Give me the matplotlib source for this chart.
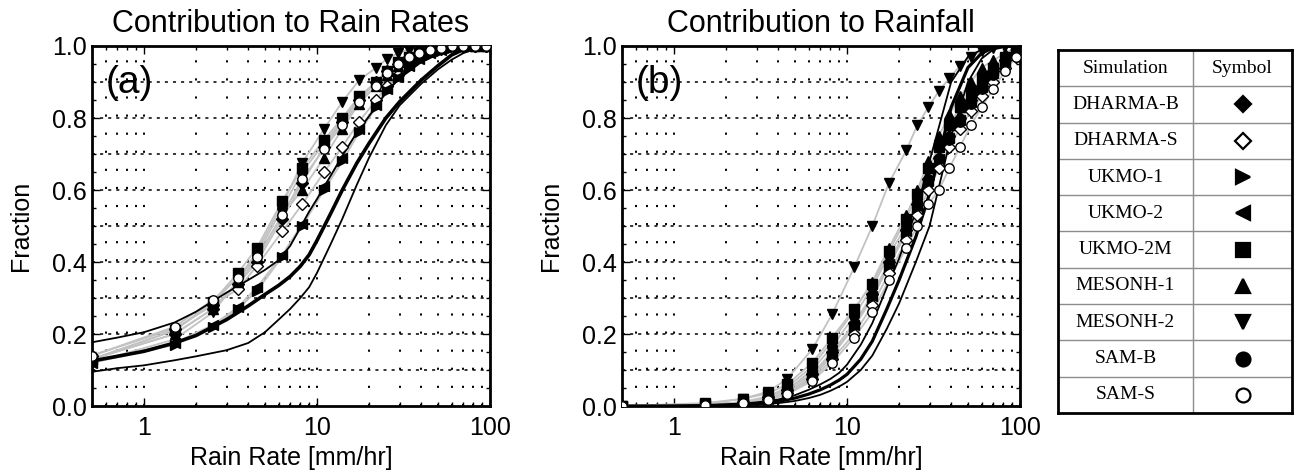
import numpy as np
import matplotlib
matplotlib.use("Agg")
import matplotlib.pyplot as plt
from matplotlib.ticker import FixedLocator, FixedFormatter, MultipleLocator, NullFormatter

plt.rcParams['font.family'] = ['Liberation Sans', 'DejaVu Sans']

# rain-rate bins where the simulation symbols sit [mm/hr]
rate_bins = [0.5, 1.5, 2.5, 3.5, 4.5, 6.3, 8.2, 11, 14, 17.5, 22, 25.5, 29.5, 34, 39, 45, 52, 60, 70, 82, 95]

# (a) contribution to rain rates
a_dharma_b = [0.13, 0.20, 0.27, 0.34, 0.40, 0.52, 0.62, 0.72, 0.79, 0.85, 0.90, 0.93, 0.95, 0.97, 0.98, 0.99, 0.995, 1, 1, 1, 1]
a_dharma_s = [0.14, 0.215, 0.28, 0.325, 0.39, 0.485, 0.56, 0.65, 0.72, 0.79, 0.85, 0.89, 0.92, 0.95, 0.97, 0.985, 0.993, 0.997, 1, 1, 1]
a_ukmo_1 = [0.12, 0.17, 0.22, 0.27, 0.32, 0.415, 0.50, 0.60, 0.68, 0.76, 0.83, 0.875, 0.91, 0.94, 0.96, 0.975, 0.987, 0.995, 1, 1, 1]
a_ukmo_2 = [0.12, 0.175, 0.225, 0.275, 0.33, 0.42, 0.505, 0.61, 0.69, 0.77, 0.835, 0.88, 0.915, 0.945, 0.965, 0.98, 0.99, 0.996, 1, 1, 1]
a_ukmo_2m = [0.13, 0.21, 0.29, 0.37, 0.44, 0.57, 0.66, 0.74, 0.80, 0.86, 0.90, 0.93, 0.955, 0.97, 0.98, 0.99, 0.995, 1, 1, 1, 1]
a_mesonh_1 = [0.13, 0.20, 0.27, 0.345, 0.41, 0.53, 0.60, 0.69, 0.77, 0.84, 0.89, 0.92, 0.945, 0.965, 0.98, 0.99, 0.995, 1, 1, 1, 1]
a_mesonh_2 = [0.12, 0.185, 0.26, 0.35, 0.43, 0.56, 0.675, 0.77, 0.845, 0.905, 0.94, 0.965, 0.98, 0.99, 0.995, 1, 1, 1, 1, 1, 1]
a_sam_b = [0.13, 0.21, 0.285, 0.36, 0.42, 0.55, 0.65, 0.73, 0.795, 0.855, 0.90, 0.93, 0.95, 0.97, 0.98, 0.99, 0.995, 1, 1, 1, 1]
a_sam_s = [0.14, 0.22, 0.295, 0.355, 0.415, 0.53, 0.63, 0.715, 0.78, 0.845, 0.89, 0.925, 0.95, 0.97, 0.98, 0.99, 0.995, 1, 1, 1, 1]

# (b) contribution to rainfall
b_dharma_b = [0, 0.003, 0.01, 0.025, 0.045, 0.09, 0.15, 0.23, 0.31, 0.40, 0.49, 0.56, 0.63, 0.69, 0.75, 0.80, 0.85, 0.89, 0.93, 0.96, 0.98]
b_dharma_s = [0, 0.002, 0.008, 0.02, 0.035, 0.075, 0.13, 0.20, 0.28, 0.37, 0.46, 0.53, 0.60, 0.66, 0.72, 0.77, 0.82, 0.86, 0.90, 0.94, 0.97]
b_ukmo_1 = [0, 0.002, 0.007, 0.018, 0.035, 0.08, 0.14, 0.22, 0.30, 0.39, 0.48, 0.55, 0.62, 0.68, 0.74, 0.79, 0.84, 0.88, 0.92, 0.95, 0.98]
b_ukmo_2 = [0, 0.002, 0.008, 0.02, 0.038, 0.085, 0.145, 0.225, 0.305, 0.395, 0.485, 0.555, 0.625, 0.685, 0.745, 0.795, 0.845, 0.885, 0.925, 0.955, 0.98]
b_ukmo_2m = [0, 0.008, 0.02, 0.035, 0.06, 0.12, 0.19, 0.27, 0.34, 0.43, 0.52, 0.59, 0.66, 0.72, 0.78, 0.83, 0.87, 0.91, 0.94, 0.97, 0.99]
b_mesonh_1 = [0, 0.003, 0.011, 0.027, 0.052, 0.11, 0.18, 0.265, 0.345, 0.44, 0.53, 0.60, 0.68, 0.75, 0.81, 0.86, 0.90, 0.94, 0.96, 0.98, 0.995]
b_mesonh_2 = [0, 0.005, 0.02, 0.04, 0.075, 0.158, 0.255, 0.385, 0.50, 0.62, 0.71, 0.78, 0.83, 0.875, 0.91, 0.945, 0.97, 0.985, 0.995, 1, 1]
b_sam_b = [0, 0.003, 0.01, 0.024, 0.045, 0.10, 0.165, 0.25, 0.33, 0.42, 0.50, 0.57, 0.63, 0.69, 0.74, 0.79, 0.84, 0.88, 0.92, 0.95, 0.98]
b_sam_s = [0, 0.002, 0.007, 0.017, 0.032, 0.07, 0.12, 0.19, 0.26, 0.35, 0.44, 0.50, 0.56, 0.60, 0.66, 0.72, 0.78, 0.83, 0.88, 0.93, 0.97]

# black reference curves
ref_rate = [0.5, 0.7, 1, 1.5, 2, 3, 4, 5, 6, 7, 8, 9, 10, 12, 14, 17, 20, 25, 30, 40, 50, 60, 70, 85, 100]
a_ref_upper = [0.177, 0.19, 0.205, 0.232, 0.262, 0.315, 0.35, 0.378, 0.405, 0.445, 0.495, 0.54, 0.575, 0.64, 0.695, 0.76, 0.805, 0.87, 0.91, 0.955, 0.978, 0.99, 0.996, 0.999, 1.0]
a_ref_mid = [0.125, 0.138, 0.152, 0.175, 0.196, 0.24, 0.278, 0.31, 0.335, 0.36, 0.388, 0.42, 0.46, 0.535, 0.60, 0.675, 0.73, 0.80, 0.845, 0.905, 0.945, 0.975, 0.99, 0.998, 1.0]
a_ref_lower = [0.095, 0.105, 0.113, 0.127, 0.138, 0.155, 0.175, 0.205, 0.24, 0.27, 0.30, 0.33, 0.37, 0.45, 0.52, 0.615, 0.69, 0.78, 0.835, 0.895, 0.935, 0.962, 0.98, 0.995, 1.0]
b_ref_left = [0, 0, 0.001, 0.002, 0.004, 0.01, 0.018, 0.03, 0.045, 0.06, 0.075, 0.092, 0.115, 0.17, 0.23, 0.33, 0.41, 0.54, 0.68, 0.90, 0.97, 0.99, 0.998, 1.0, 1.0]
b_ref_mid = [0, 0, 0, 0.001, 0.003, 0.007, 0.013, 0.022, 0.033, 0.045, 0.058, 0.072, 0.088, 0.13, 0.18, 0.27, 0.35, 0.47, 0.59, 0.83, 0.94, 0.98, 0.995, 1.0, 1.0]
b_ref_right = [0, 0, 0, 0, 0.001, 0.004, 0.008, 0.014, 0.022, 0.031, 0.042, 0.054, 0.067, 0.10, 0.14, 0.215, 0.285, 0.40, 0.50, 0.75, 0.90, 0.965, 0.99, 1.0, 1.0]

sim_names = ['DHARMA-B', 'DHARMA-S', 'UKMO-1', 'UKMO-2', 'UKMO-2M',
             'MESONH-1', 'MESONH-2', 'SAM-B', 'SAM-S']
sim_markers = ['D', 'D', '>', '<', 's', '^', 'v', 'o', 'o']
sim_filled = [True, False, True, True, True, True, True, True, False]

a_sims = [a_dharma_b, a_dharma_s, a_ukmo_1, a_ukmo_2, a_ukmo_2m, a_mesonh_1, a_mesonh_2, a_sam_b, a_sam_s]
b_sims = [b_dharma_b, b_dharma_s, b_ukmo_1, b_ukmo_2, b_ukmo_2m, b_mesonh_1, b_mesonh_2, b_sam_b, b_sam_s]

W, H = 1297, 473
fig = plt.figure(figsize=(W / 100, H / 100), dpi=100)


def panel(left, sims, refs, title, tag):
    ax = fig.add_axes([left / W, (H - 406) / H, 398 / W, 360 / H])
    ax.set_xscale('log')
    # gray lines per simulation
    for vals in sims:
        ax.plot(rate_bins, vals, color='0.76', lw=1.3, zorder=2)
    for (vals, lw) in refs:
        ax.plot(ref_rate, vals, color='k', lw=lw, zorder=4)
    for vals, m, filled in zip(sims, sim_markers, sim_filled):
        ax.plot(rate_bins, vals, ls='none', marker=m, ms=6.8 if m != 'D' else 5.8,
                mfc='k' if filled else 'white', mec='k', mew=1.0, zorder=5)
    ax.set_xlim(0.5, 100)
    ax.set_ylim(0, 1)
    ax.xaxis.set_major_locator(FixedLocator([1, 10, 100]))
    ax.xaxis.set_major_formatter(FixedFormatter(['1', '10', '100']))
    minors = [m * d for d in (0.1, 1, 10) for m in range(2, 10)]
    ax.xaxis.set_minor_locator(FixedLocator(minors))
    ax.xaxis.set_minor_formatter(NullFormatter())
    ax.yaxis.set_major_locator(MultipleLocator(0.2))
    ax.yaxis.set_major_formatter(plt.FuncFormatter(lambda v, p: '%.1f' % v))
    ax.yaxis.set_minor_locator(MultipleLocator(0.05))
    ax.tick_params(which='both', direction='in', top=True, right=True, width=1.0)
    ax.tick_params(which='major', length=6, labelsize=18, pad=7)
    ax.tick_params(which='minor', length=3)
    ax.tick_params(axis='y', pad=4)
    ax.grid(True, which='both', axis='x', color='k', lw=1.4, ls=(0, (1.1, 8.2)))
    ax.hlines(np.arange(0.1, 0.95, 0.1), 0, 1, transform=ax.get_yaxis_transform(),
              color='k', lw=1.1, ls=(0, (2.0, 3.3)), zorder=1)
    for s in ax.spines.values():
        s.set_linewidth(2.0)
    ax.set_title(title, fontsize=22, pad=10)
    ax.set_xlabel('Rain Rate [mm/hr]', fontsize=18)
    ax.xaxis.set_label_coords(0.5, -0.112)
    ax.set_ylabel('Fraction', fontsize=18)
    ax.yaxis.set_label_coords(-0.148, 0.5)
    ax.text(0.033, 0.897, tag, transform=ax.transAxes, fontsize=28, va='center', ha='left', zorder=6)
    return ax


panel(92, a_sims, [(a_ref_upper, 1.3), (a_ref_mid, 2.6), (a_ref_lower, 1.3)],
      'Contribution to Rain Rates', '(a)')
panel(622, b_sims, [(b_ref_left, 1.3), (b_ref_mid, 2.3), (b_ref_right, 1.3)],
      'Contribution to Rainfall', '(b)')

# symbol table
tx = fig.add_axes([1058 / W, (H - 413) / H, 234 / W, 363 / H])
tx.set_xlim(0, 1)
tx.set_ylim(0, 1)
tx.set_xticks([])
tx.set_yticks([])
for s in tx.spines.values():
    s.set_linewidth(2.0)
nrow = len(sim_names) + 1
col = 135 / 234
for i in range(1, nrow):
    tx.axhline(1 - i / nrow, color='0.55', lw=1.0)
tx.axvline(col, color='0.55', lw=1.0)
serif = ['Liberation Serif', 'DejaVu Serif']
tx.text(col / 2, 1 - 0.5 / nrow, 'Simulation', ha='center', va='center', fontsize=14, family=serif)
tx.text((1 + col) / 2, 1 - 0.5 / nrow, 'Symbol', ha='center', va='center', fontsize=14, family=serif)
for i, (name, m, filled) in enumerate(zip(sim_names, sim_markers, sim_filled)):
    yc = 1 - (i + 1.5) / nrow
    tx.text(col / 2, yc, name, ha='center', va='center', fontsize=14, family=serif)
    tx.plot([(1 + col) / 2], [yc], marker=m, ms=10 if m != 'D' else 8.5,
            mfc='k' if filled else 'white', mec='k', mew=1.6)

fig.savefig('out.png', dpi=100)
